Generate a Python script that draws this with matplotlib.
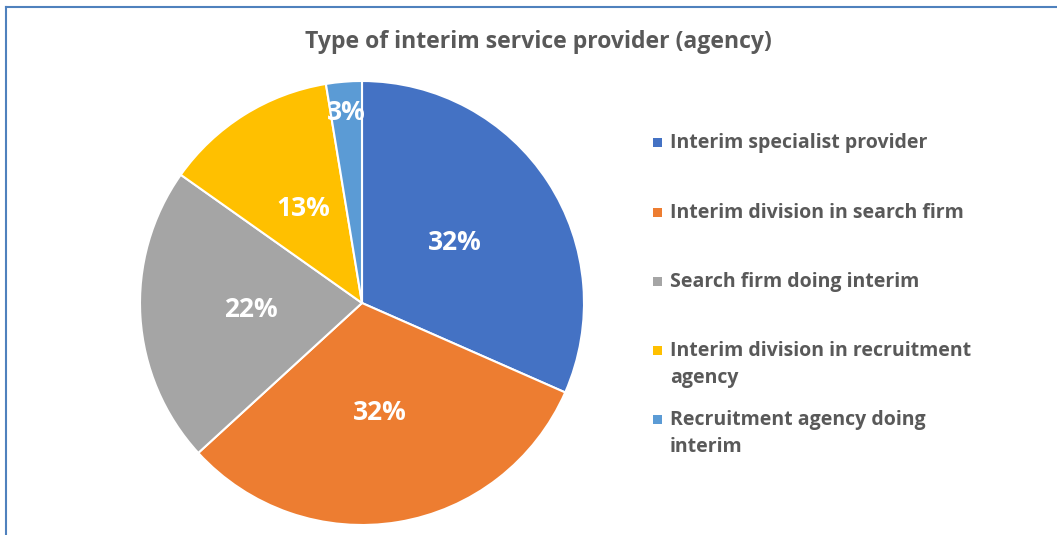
import matplotlib.pyplot as plt
from matplotlib.patches import Rectangle
import numpy as np

# Data
categories = [
    'Interim specialist provider',
    'Interim division in search firm',
    'Search firm doing interim',
    'Interim division in recruitment\nagency',
    'Recruitment agency doing\ninterim',
]
shares = [31.6, 31.6, 21.6, 12.6, 2.6]
colors = ['#4472C4', '#ED7D31', '#A5A5A5', '#FFC000', '#5B9BD5']
title = 'Type of interim service provider (agency)'

plt.rcParams['font.family'] = ['Open Sans', 'DejaVu Sans']
text_color = '#595959'

W, H = 1057, 535
fig = plt.figure(figsize=(W / 100, H / 100), dpi=100)

# Frame lines on the top and left (rest is cropped in the reference)
fig.add_artist(plt.Line2D([6 / W, 1], [1 - 7 / H, 1 - 7 / H], color='#4F81BD', lw=1.5))
fig.add_artist(plt.Line2D([6 / W, 6 / W], [0, 1 - 7 / H], color='#4F81BD', lw=1.5))

fig.text(538 / W, 1 - 42 / H, title, ha='center', va='center',
         fontsize=16.6, fontweight='bold', color=text_color)

# Pie axes: centre (362, 303) px, radius 222 px
cx, cy, r = 362, 303, 222
ax = fig.add_axes([(cx - r) / W, (H - cy - r) / H, 2 * r / W, 2 * r / H])
wedges, texts, autotexts = ax.pie(
    shares, colors=colors, startangle=90, counterclock=False,
    autopct=lambda p: f'{p:.0f}%', pctdistance=0.5,
    wedgeprops={'edgecolor': 'white', 'linewidth': 1.5},
    textprops={'color': 'white', 'fontsize': 19, 'fontweight': 'bold'},
)
ax.set_xlim(-1, 1)
ax.set_ylim(-1, 1)
ax.set_aspect('equal')

# The tiny slice has its label pushed out near the rim
w = wedges[-1]
mid = np.radians((w.theta1 + w.theta2) / 2)
autotexts[-1].set_position((0.86 * np.cos(mid), 0.86 * np.sin(mid)))

# Legend drawn by hand (fixed row pitch like the reference)
row_y = [142, 212, 281, 350, 419]
for y, lab, c in zip(row_y, categories, colors):
    fig.add_artist(Rectangle((653 / W, 1 - (y + 5) / H), 9 / W, 9 / H,
                             facecolor=c, edgecolor='none'))
    fig.text(670 / W, 1 - (y - 9) / H, lab, ha='left', va='top',
             fontsize=14, fontweight='bold', color=text_color,
             linespacing=1.5)

fig.savefig('out.png', dpi=100)
